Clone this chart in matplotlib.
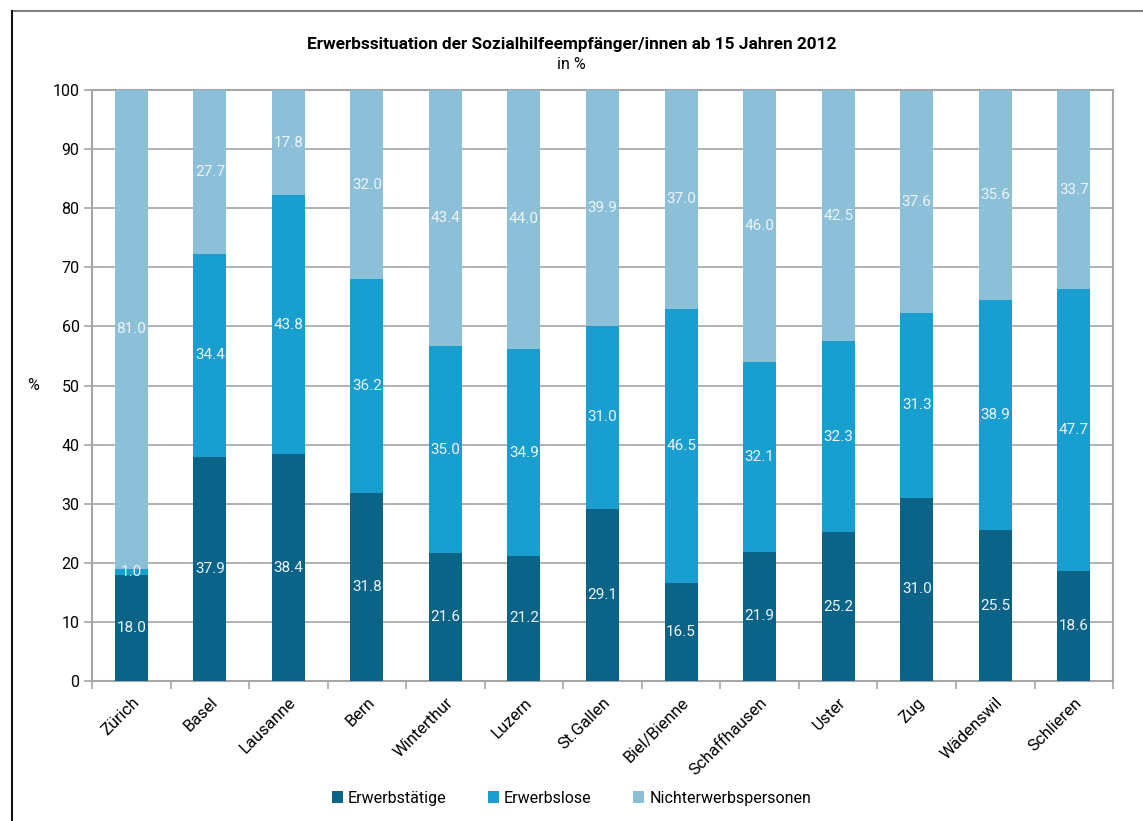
import matplotlib
matplotlib.use("Agg")
import matplotlib.pyplot as plt
import numpy as np
from matplotlib.lines import Line2D

plt.rcParams['font.family'] = ['Roboto', 'DejaVu Sans']

# data
cities = ['Zürich', 'Basel', 'Lausanne', 'Bern', 'Winterthur', 'Luzern', 'St.Gallen',
          'Biel/Bienne', 'Schaffhausen', 'Uster', 'Zug', 'Wädenswil', 'Schlieren']
erwerbstaetige = [18.0, 37.9, 38.4, 31.8, 21.6, 21.2, 29.1, 16.5, 21.9, 25.2, 31.0, 25.5, 18.6]
erwerbslose = [1.0, 34.4, 43.8, 36.2, 35.0, 34.9, 31.0, 46.5, 32.1, 32.3, 31.3, 38.9, 47.7]
nichterwerb = [81.0, 27.7, 17.8, 32.0, 43.4, 44.0, 39.9, 37.0, 46.0, 42.5, 37.6, 35.6, 33.7]
series_names = ['Erwerbstätige', 'Erwerbslose', 'Nichterwerbspersonen']
colors = ['#0b6488', '#189ecf', '#8bc0d8']

fig = plt.figure(figsize=(11.43, 8.21), dpi=100)
ax = fig.add_axes([0.0805, 0.1705, 0.8933, 0.7199])

x = np.arange(len(cities))
bottom = np.zeros(len(cities))
for vals, name, col in zip([erwerbstaetige, erwerbslose, nichterwerb], series_names, colors):
    vals = np.array(vals)
    ax.bar(x, vals, width=0.42, bottom=bottom, color=col, label=name, zorder=3)
    for xi, b, v in zip(x, bottom, vals):
        ax.text(xi, b + v / 2, f'{v:.1f}', ha='center', va='center',
                color='#eef4f7', fontsize=11, zorder=4)
    bottom = bottom + vals

ax.set_xlim(-0.5, len(cities) - 0.5)
ax.set_ylim(0, 100)
ax.set_yticks(np.arange(0, 101, 10))
ax.yaxis.grid(True, color='#a6a6a6', linewidth=1.2, zorder=0)
ax.tick_params(axis='y', labelsize=11.5, length=6, color='#a6a6a6', width=1.2, pad=3)

# category ticks at boundaries, labels in the middle
ax.set_xticks(np.arange(-0.5, len(cities), 1.0))
ax.set_xticklabels([])
ax.set_xticks(x, minor=True)
ax.set_xticklabels(cities, minor=True, rotation=45, ha='right', rotation_mode='anchor',
                   fontsize=12)
ax.tick_params(axis='x', which='major', length=6, color='#a6a6a6', width=1.2)
ax.tick_params(axis='x', which='minor', length=0, pad=10)

for s in ax.spines.values():
    s.set_color('#a6a6a6')
    s.set_linewidth(1.5)

ax.set_ylabel('%', rotation=0, fontsize=11.5, labelpad=14, va='center')

fig.text(0.5, 0.946, 'Erwerbssituation der Sozialhilfeempfänger/innen ab 15 Jahren 2012',
         ha='center', va='center', fontsize=12.4, fontweight='bold')
fig.text(0.5, 0.921, 'in %', ha='center', va='center', fontsize=11.5)

handles, labels = ax.get_legend_handles_labels()
fig.legend(handles, labels, loc='center', bbox_to_anchor=(0.5, 0.028), ncol=3,
           frameon=False, fontsize=11.5, handlelength=0.7, handleheight=0.7,
           handletextpad=0.3, columnspacing=2.6)

# outer frame lines
fig.add_artist(Line2D([0.0105, 1.0], [0.9866, 0.9866], color='#808080', linewidth=1.5,
                      transform=fig.transFigure))
fig.add_artist(Line2D([0.0105, 0.0105], [0.0, 0.9866], color='#111111', linewidth=1.5,
                      transform=fig.transFigure))

fig.savefig('out.png', dpi=100)
